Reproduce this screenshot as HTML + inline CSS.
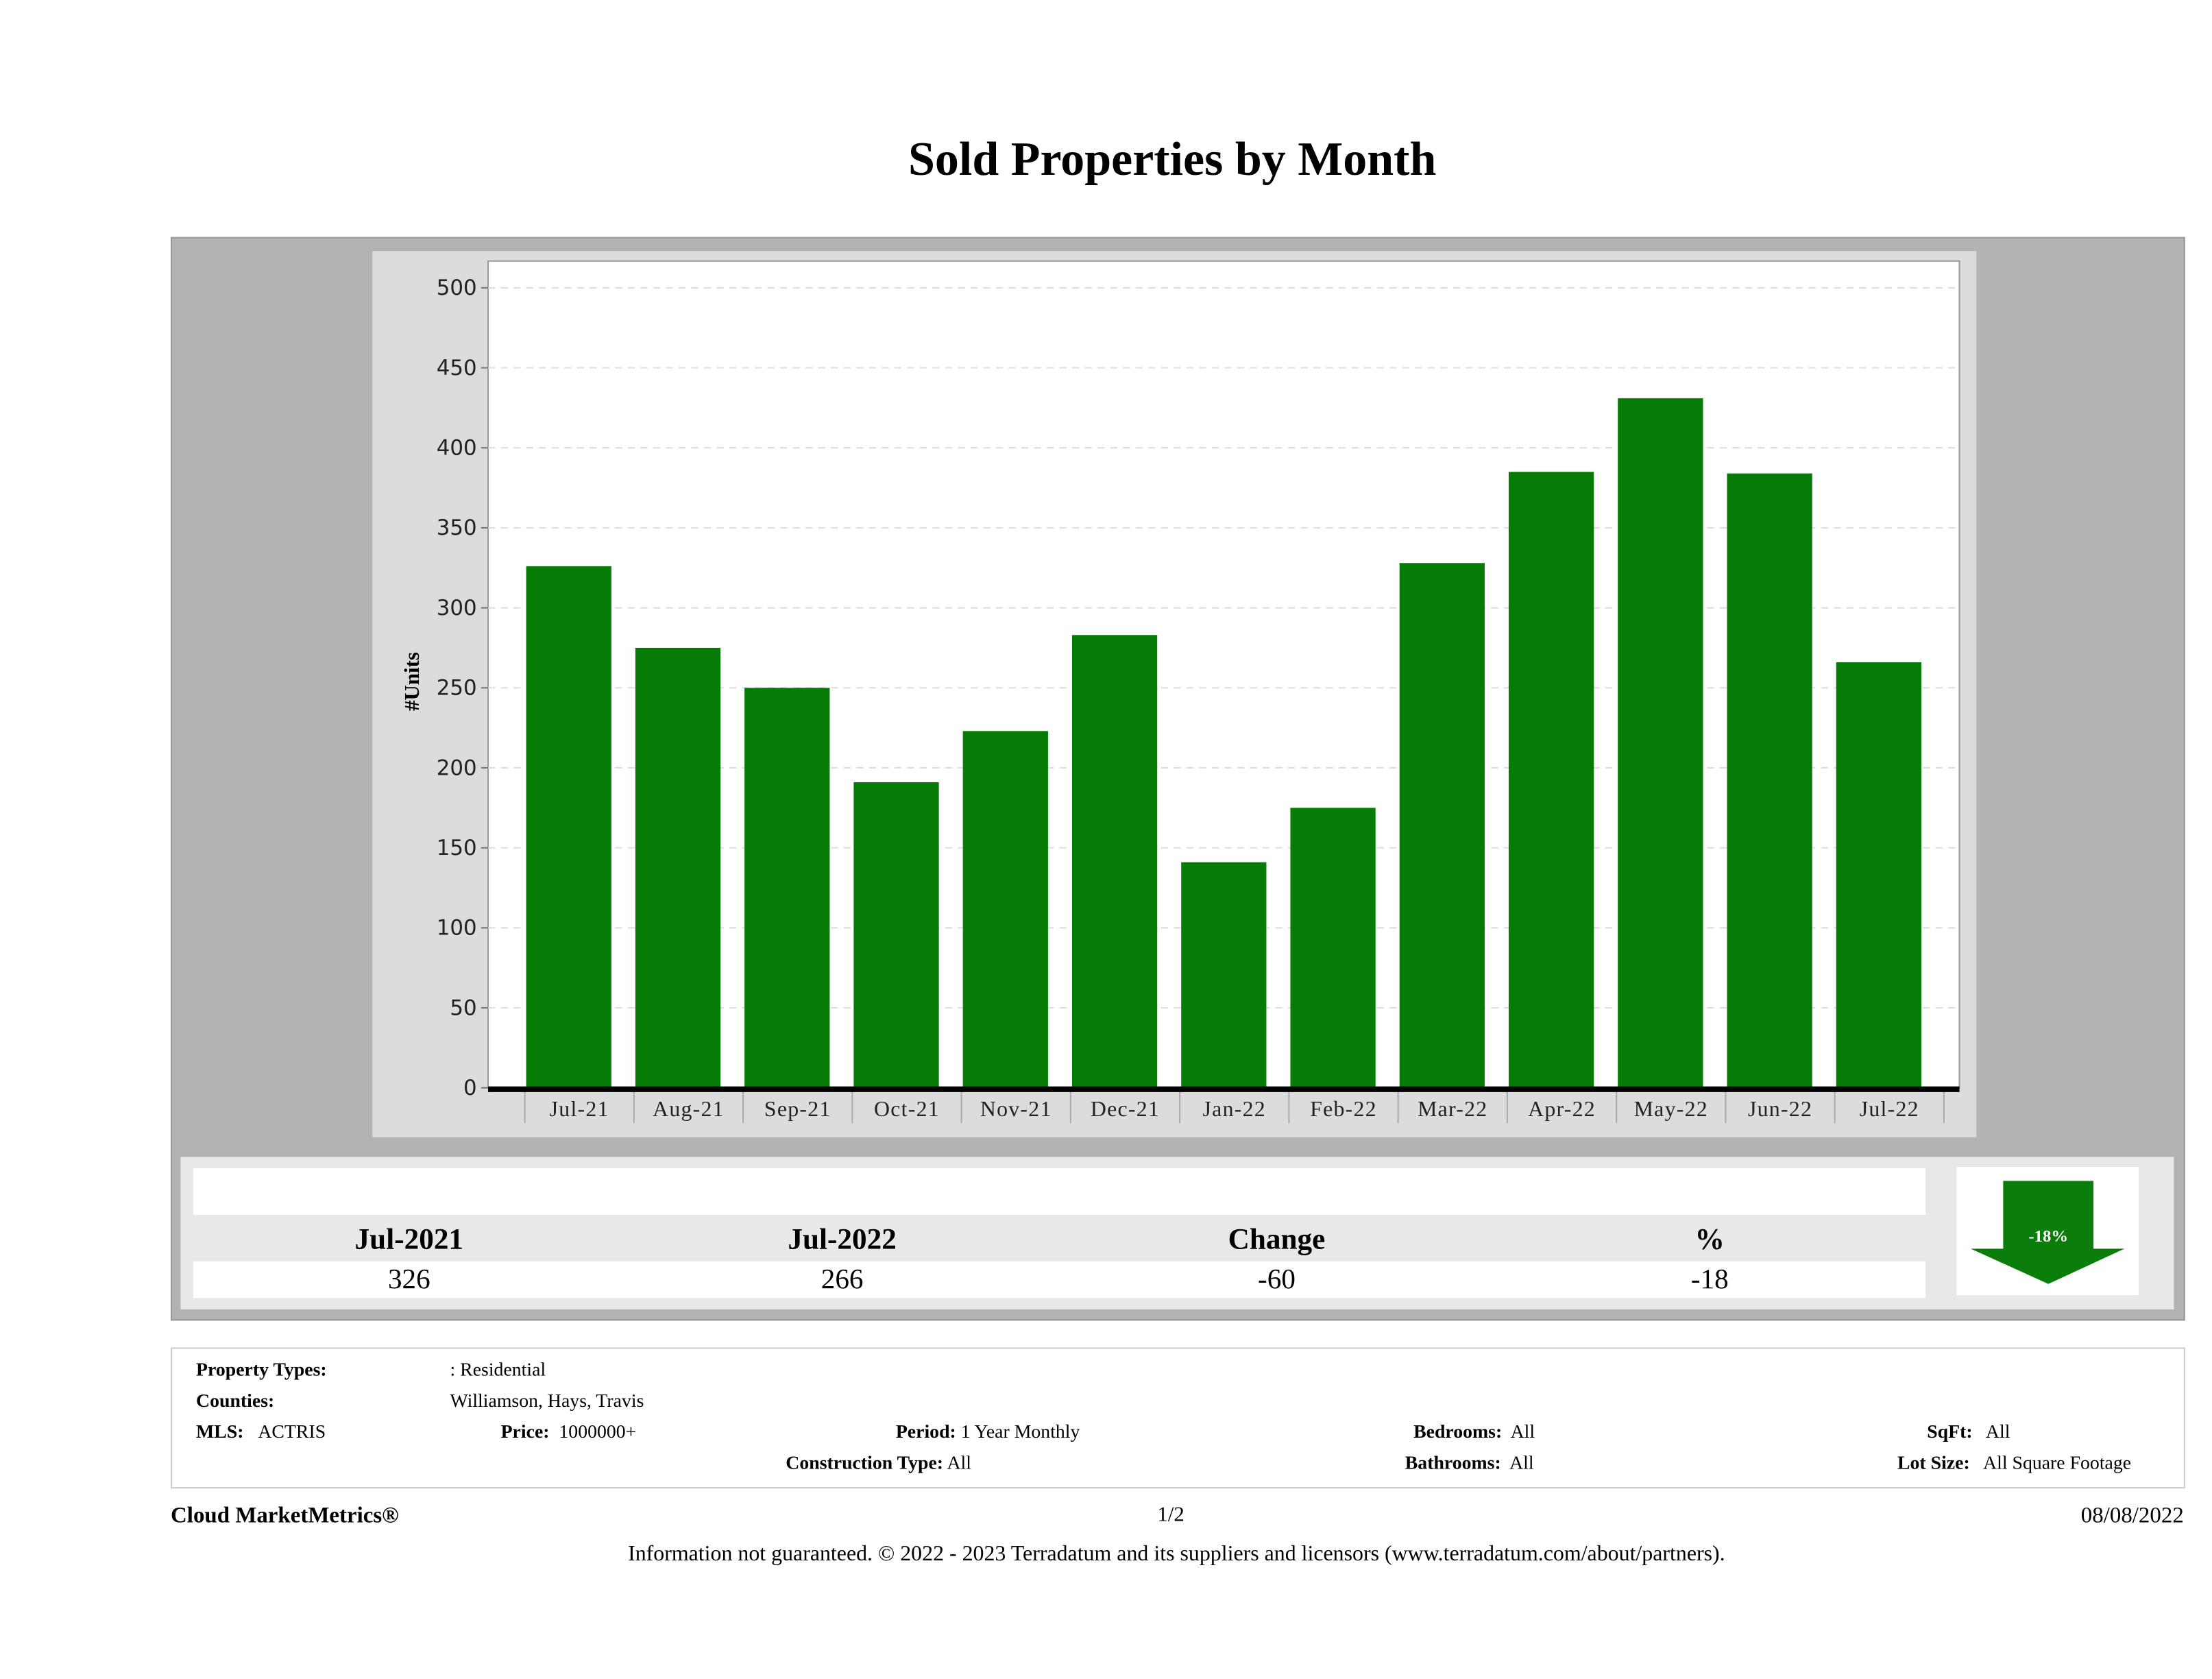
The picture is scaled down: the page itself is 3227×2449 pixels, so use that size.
<!DOCTYPE html>
<html><head><meta charset="utf-8"><style>
html,body{margin:0;padding:0;background:#fff;width:3227px;height:2448px;overflow:hidden}
#root{position:absolute;left:0;top:0;width:1568px;height:1190px;transform:scale(2.058);transform-origin:0 0;font-family:"Liberation Serif",serif;color:#000}
.a{position:absolute}
.lbl{font-weight:bold;font-size:13.5px}
.v{font-size:13.5px}
</style></head><body>
<div id="root">
<div class="a" style="left:0;width:1662px;top:95px;text-align:center;font-size:34px;font-weight:bold">Sold Properties by Month</div>
<div class="a" style="left:121px;top:168px;width:1426px;height:766px;background:#b3b3b3;border:1px solid #999"></div>
<div class="a" style="left:264px;top:178px;width:1137px;height:628px;background:#dcdcdc"></div>
<svg class="a" style="left:0;top:0" width="1568" height="820" id="chart"></svg>

<div class="a" style="left:128px;top:820px;width:1413px;height:108px;background:#e8e8e8"></div>
<div class="a" style="left:137px;top:828px;width:1228px;height:33px;background:#fff"></div>
<div class="a" style="left:137px;top:894px;width:1228px;height:26px;background:#fff"></div>
<div class="a" style="left:190px;width:200px;top:866px;text-align:center;font-size:21px;font-weight:bold">Jul-2021</div>
<div class="a" style="left:497px;width:200px;top:866px;text-align:center;font-size:21px;font-weight:bold">Jul-2022</div>
<div class="a" style="left:805px;width:200px;top:866px;text-align:center;font-size:21px;font-weight:bold">Change</div>
<div class="a" style="left:1112px;width:200px;top:866px;text-align:center;font-size:21px;font-weight:bold">%</div>
<div class="a" style="left:190px;width:200px;top:896px;text-align:center;font-size:20px">326</div>
<div class="a" style="left:497px;width:200px;top:896px;text-align:center;font-size:20px">266</div>
<div class="a" style="left:805px;width:200px;top:896px;text-align:center;font-size:20px">-60</div>
<div class="a" style="left:1112px;width:200px;top:896px;text-align:center;font-size:20px">-18</div>
<div class="a" style="left:1387px;top:827px;width:129px;height:91px;background:#fff"></div>
<svg class="a" style="left:0;top:0" width="1568" height="930">
<polygon points="1420,837 1484,837 1484,885 1506,885 1452,910 1397,885 1420,885" fill="#0a7d0a"/>
<text x="1452" y="880" text-anchor="middle" fill="#fff" font-size="12" font-weight="bold" font-family="Liberation Serif, serif">-18%</text>
</svg>

<div class="a" style="left:121px;top:955px;width:1426px;height:98px;border:1px solid #ccc"></div>
<div class="a lbl" style="left:139px;top:963px">Property Types:</div>
<div class="a v" style="left:319px;top:963px">: Residential</div>
<div class="a lbl" style="left:139px;top:985px">Counties:</div>
<div class="a v" style="left:319px;top:985px">Williamson, Hays, Travis</div>
<div class="a v" style="left:139px;top:1007px"><b>MLS:</b>&nbsp;&nbsp;&nbsp;ACTRIS</div>
<div class="a v" style="left:355px;top:1007px"><b>Price:</b>&nbsp; 1000000+</div>
<div class="a v" style="left:635px;top:1007px"><b>Period:</b> 1 Year Monthly</div>
<div class="a v" style="left:557px;top:1029px"><b>Construction Type:</b> All</div>
<div class="a v" style="left:1002px;top:1007px"><b>Bedrooms:</b>&nbsp; All</div>
<div class="a v" style="left:996px;top:1029px"><b>Bathrooms:</b>&nbsp; All</div>
<div class="a v" style="left:1366px;top:1007px"><b>SqFt:</b>&nbsp;&nbsp; All</div>
<div class="a v" style="left:1345px;top:1029px"><b>Lot Size:</b>&nbsp;&nbsp; All Square Footage</div>
<div class="a" style="left:121px;top:1066px;font-size:16px;font-weight:bold">Cloud MarketMetrics®</div>
<div class="a" style="left:780px;width:100px;top:1066px;text-align:center;font-size:15px">1/2</div>
<div class="a" style="left:1400px;width:148px;top:1066px;text-align:right;font-size:16px">08/08/2022</div>
<div class="a" style="left:0;width:1668px;top:1093px;text-align:center;font-size:15.5px">Information not guaranteed. © 2022 - 2023 Terradatum and its suppliers and licensors (www.terradatum.com/about/partners).</div>
</div>
<script>
const categories=["Jul-21","Aug-21","Sep-21","Oct-21","Nov-21","Dec-21","Jan-22","Feb-22","Mar-22","Apr-22","May-22","Jun-22","Jul-22"];
const soldValues=[326,275,250,191,223,283,141,175,328,385,431,384,266];
const yTicks=[0,50,100,150,200,250,300,350,400,450,500];
const NS="http://www.w3.org/2000/svg";
const svg=document.getElementById('chart');
const plotL=346,plotR=1389,plotT=185,y0=771,y500=204;
const catL=372,catR=1378;
function yScale(v){return y0-(v/500)*(y0-y500);}
const step=(catR-catL)/categories.length;
function xScale(i){return catL+i*step;}
function mk(tag,attrs){const e=document.createElementNS(NS,tag);for(const k in attrs)e.setAttribute(k,attrs[k]);svg.appendChild(e);return e;}
let e=mk('rect',{x:plotL,y:plotT,width:plotR-plotL,height:y0-plotT,fill:'#fff',stroke:'#999'});


yTicks.forEach(t=>{
  const y=yScale(t);
  if(t>0){const g=mk('line',{x1:plotL,x2:plotR,y1:y,y2:y,stroke:'#ddd','stroke-dasharray':'5,4'});
  
  }
  mk('line',{x1:plotL-5,x2:plotL,y1:y,y2:y,stroke:'#777'});
  const tx=mk('text',{x:338,y:y+5,'text-anchor':'end','font-size':'15','font-family':'DejaVu Sans, sans-serif',fill:'#222'});
  tx.textContent=t;
  
  
});
soldValues.forEach((v,i)=>{
  const x=xScale(i)+1,w=step-17;
  const b=mk('rect',{x:x,y:yScale(v),width:w,height:y0-yScale(v),fill:'#067c06'});
  
  
});
categories.forEach((c,i)=>{
  mk('line',{x1:xScale(i),x2:xScale(i),y1:774,y2:796,stroke:'#aaa'});
  const tx=mk('text',{x:xScale(i)+step/2,y:791,'text-anchor':'middle','font-size':'15.5','font-family':'Liberation Serif, serif',fill:'#222','letter-spacing':'0.6'});
  tx.textContent=c;
  
  
});
mk('line',{x1:catR,x2:catR,y1:774,y2:796,stroke:'#aaa'});
const ax=mk('rect',{x:plotL,y:770,width:plotR-plotL,height:4,fill:'#000'});


const yt=mk('text',{x:0,y:0,transform:'translate(297,483) rotate(-90)','text-anchor':'middle','font-size':'15','font-weight':'bold','font-family':'Liberation Serif, serif'});
yt.textContent='#Units';


</script>
</body></html>
